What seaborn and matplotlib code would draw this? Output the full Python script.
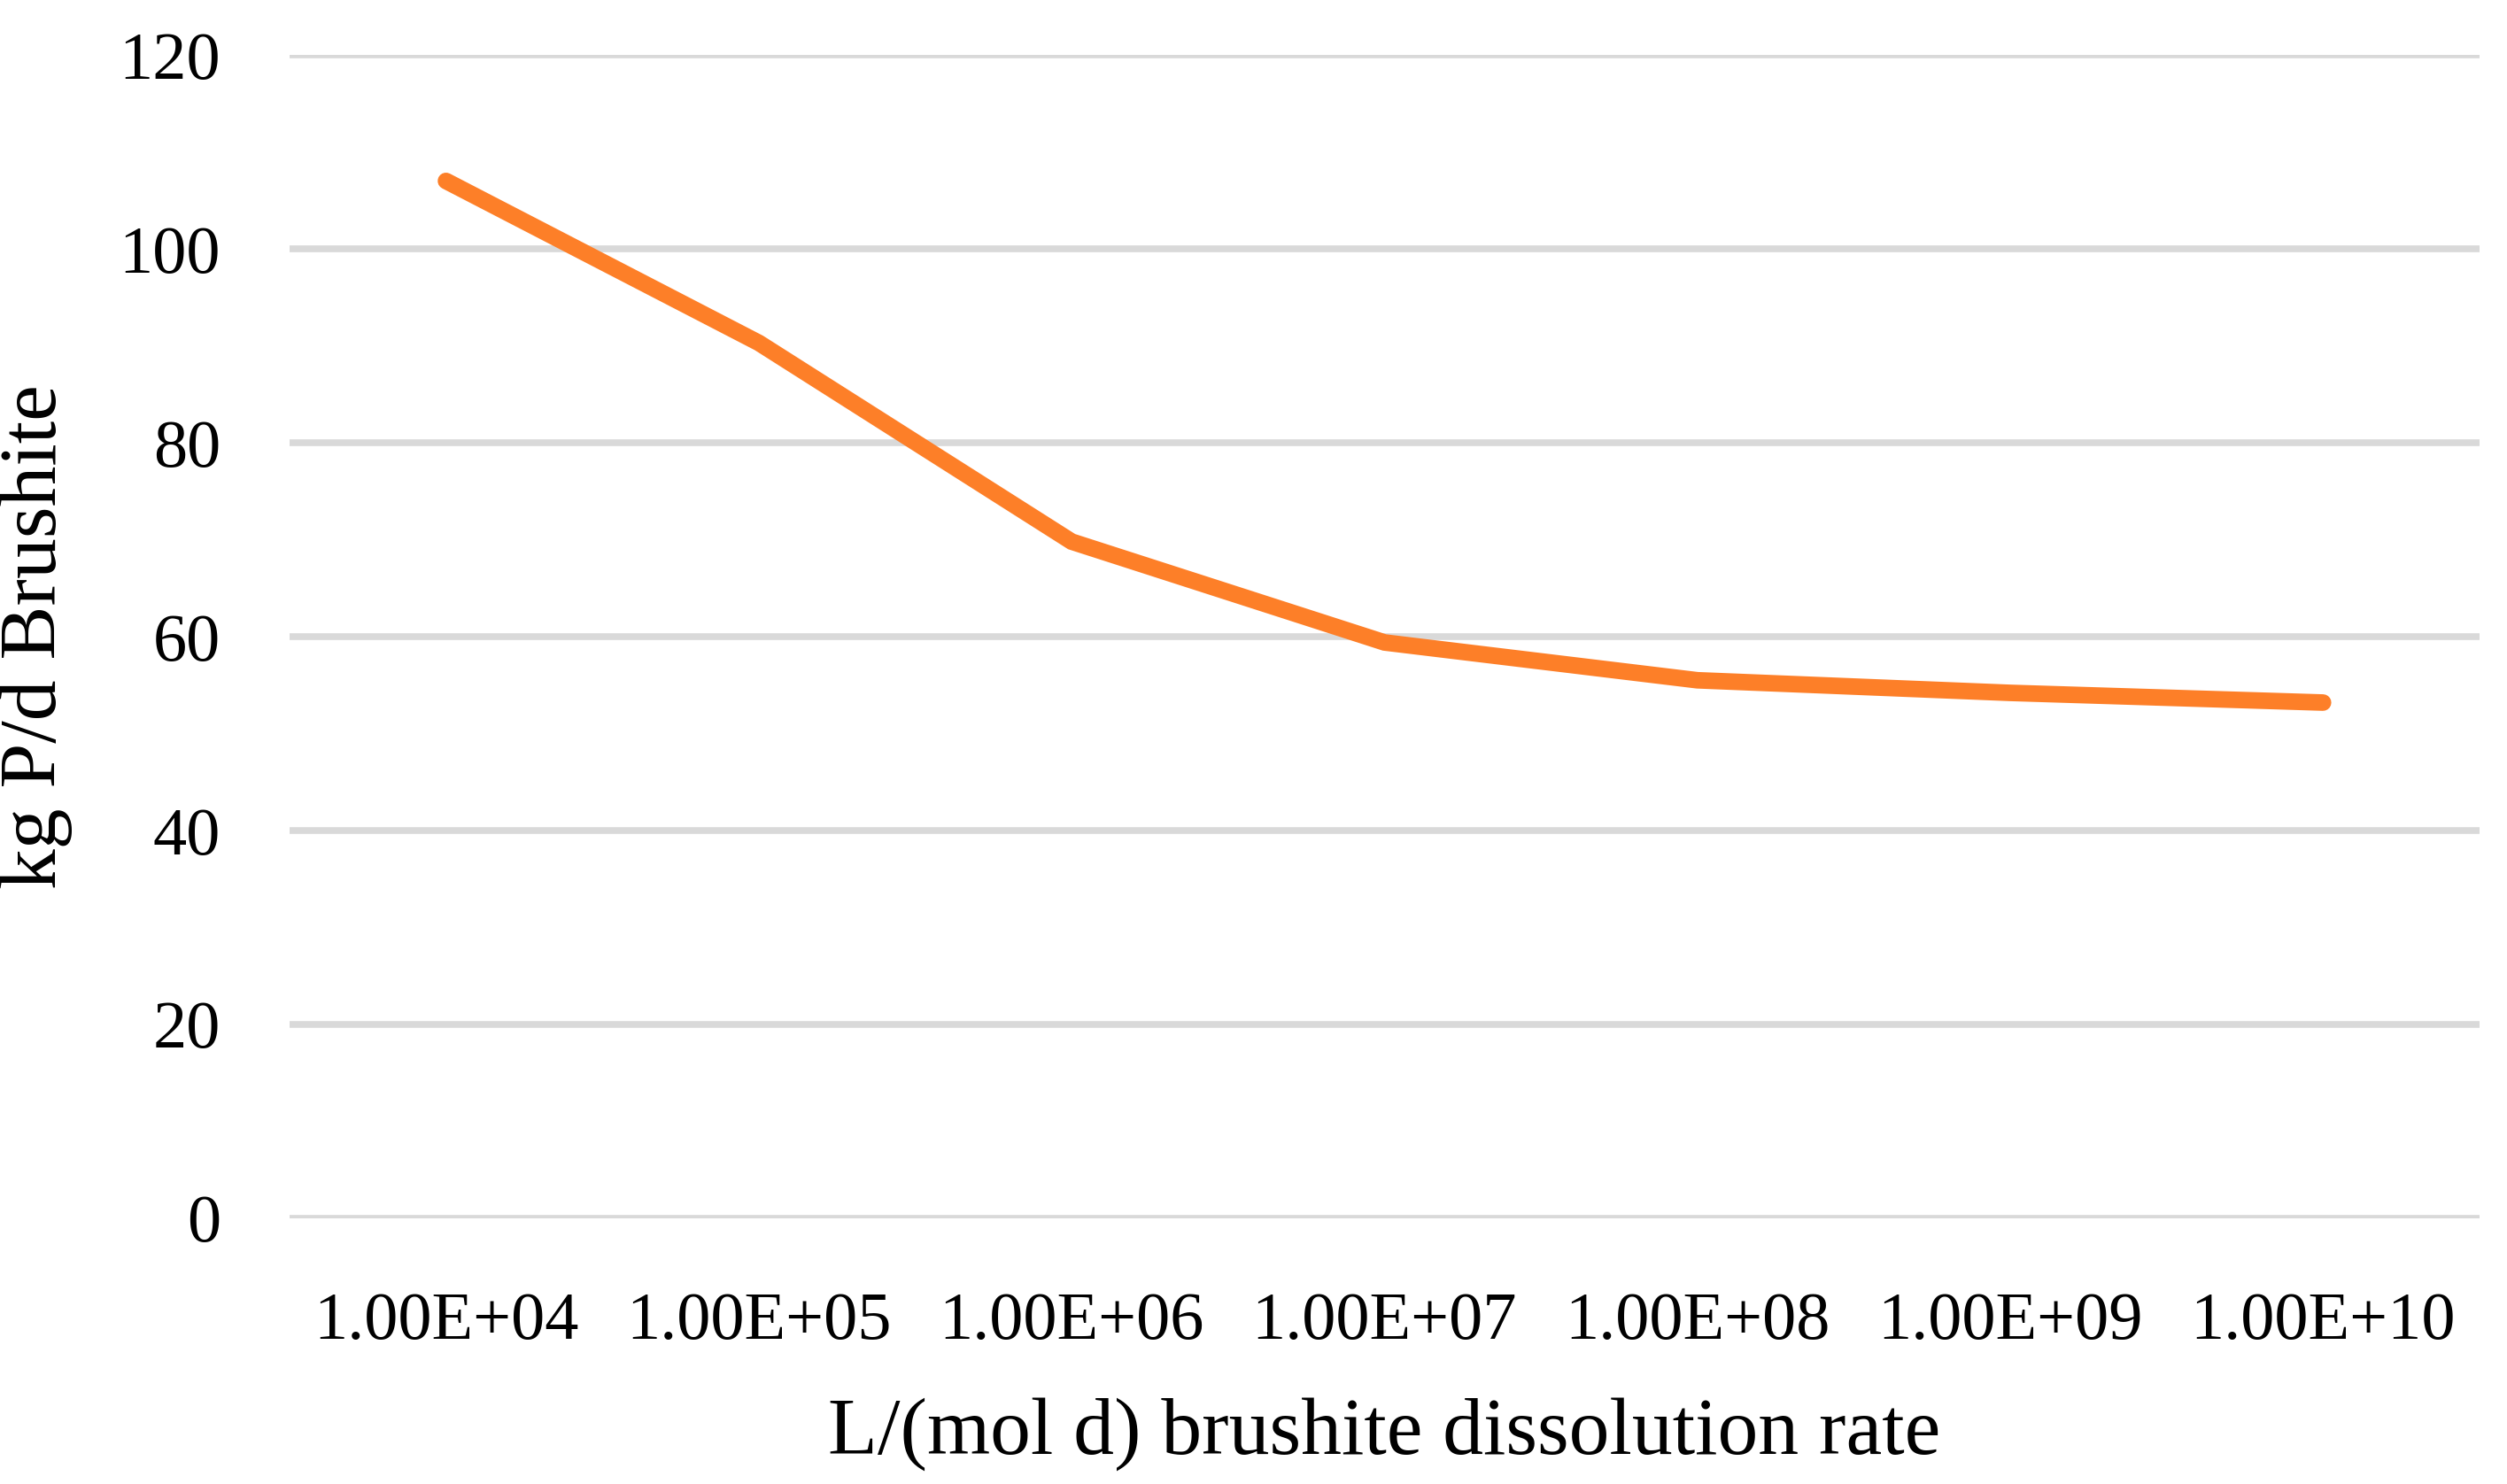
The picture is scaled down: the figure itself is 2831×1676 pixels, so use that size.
import pandas as pd
import matplotlib.pyplot as plt
import seaborn as sns

# datos
rates = ["1.00E+04", "1.00E+05", "1.00E+06", "1.00E+07", "1.00E+08", "1.00E+09", "1.00E+10"]
kg_p = [107.0, 90.3, 69.8, 59.4, 55.5, 54.2, 53.2]

df = pd.DataFrame({"rate": rates, "kg": kg_p})

sns.set_theme(style="white")
plt.rcParams['font.family'] = ['Liberation Serif', 'DejaVu Serif']

fig = plt.figure(figsize=(28.31, 16.76), dpi=100)
ax = fig.add_axes([0.1155, 0.179, 0.8735, 0.784])

sns.lineplot(x="rate", y="kg", data=df, color="#FD7F28", linewidth=13.5,
             sort=False, solid_capstyle="round", solid_joinstyle="miter", ax=ax)

ax.set_xlim(-0.5, 6.5)
ax.set_ylim(0, 120)
ax.set_yticks(range(0, 121, 20))
ax.yaxis.grid(True, color="#d9d9d9", linewidth=5.5)
ax.set_axisbelow(True)
for s in ax.spines.values():
    s.set_visible(False)
ax.tick_params(axis="both", length=0, labelsize=55, colors="black")
ax.tick_params(axis="x", pad=60)
ax.tick_params(axis="y", pad=56)

ax.set_xlabel("L/(mol d) brushite dissolution rate", fontsize=66, labelpad=36, color="black")
ax.set_ylabel("kg P/d Brushite", fontsize=66, labelpad=38, color="black")

fig.savefig("out.png", dpi=100)
